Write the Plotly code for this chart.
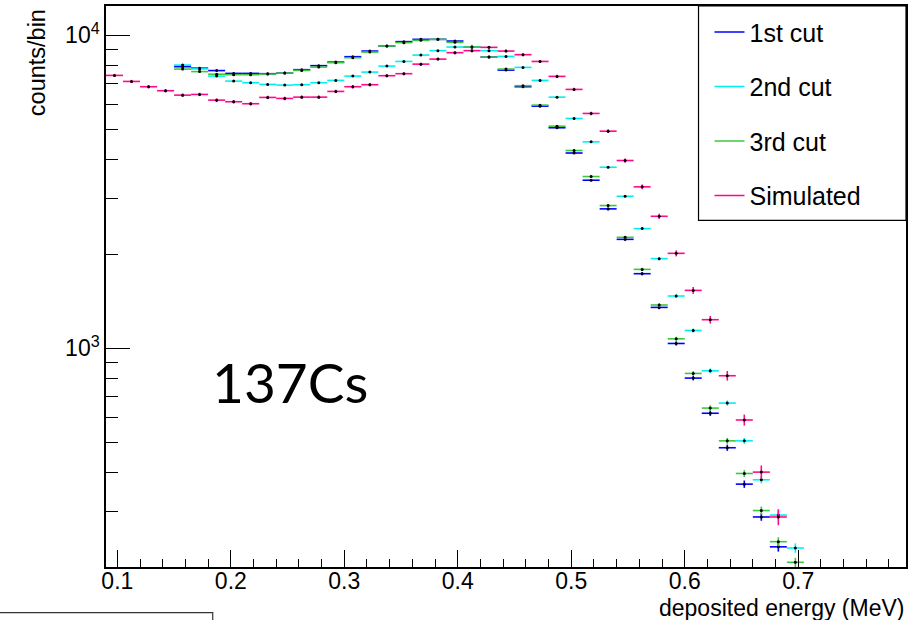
import math
import plotly.graph_objects as go

# ---------------- data ----------------
bin_width = 0.015
energy = [0.0975, 0.1125, 0.1275, 0.1425, 0.1575, 0.1725, 0.1875, 0.2025, 0.2175, 0.2325,
          0.2475, 0.2625, 0.2775, 0.2925, 0.3075, 0.3225, 0.3375, 0.3525, 0.3675, 0.3825,
          0.3975, 0.4125, 0.4275, 0.4425, 0.4575, 0.4725, 0.4875, 0.5025, 0.5175, 0.5325,
          0.5475, 0.5625, 0.5775, 0.5925, 0.6075, 0.6225, 0.6375, 0.6525, 0.6675, 0.6825,
          0.6975]

cut1 = [None, None, None, None, 7940, 7853, 7716, 7558, 7558, 7541,
        7575, 7767, 8000, 8213, 8546, 8907, 9243, 9547, 9710, 9710,
        9589, 9175, 8521, 7744, 6852, 5940, 5066, 4207, 3444, 2789,
        2229, 1731, 1351, 1036, 803, 620, 481, 368, 289, 232,
        None]
cut1_err = [None, None, None, None, 45, 44, 44, 43, 43, 43,
            43, 44, 45, 45, 46, 47, 48, 49, 49, 49,
            49, 48, 46, 44, 41, 39, 36, 32, 29, 26,
            24, 21, 18, 16, 14, 12, 11, 10, 8, 8,
            None]

cut2 = [None, None, None, None, 8034, 7813, 7409, 7141, 7058, 6970,
        6934, 6954, 7058, 7178, 7409, 7631, 7975, 8253, 8648, 8933,
        9175, 9175, 8933, 8565, 7899, 7178, 6347, 5425, 4567, 3789,
        3060, 2412, 1934, 1469, 1140, 847, 668, 506, 380, 293,
        230]
cut2_err = [None, None, None, None, 45, 44, 43, 42, 42, 42,
            42, 42, 42, 42, 43, 44, 45, 45, 46, 47,
            48, 48, 47, 46, 44, 42, 40, 37, 34, 31,
            28, 25, 22, 19, 17, 15, 13, 11, 10, 9,
            8]

cut3 = [None, None, None, None, 7801, 7659, 7513, 7486, 7486, 7519,
        7575, 7727, 7917, 8177, 8483, 8842, 9243, 9477, 9638, 9710,
        9497, 9175, 8521, 7801, 6903, 5984, 5126, 4285, 3538, 2858,
        2262, 1787, 1375, 1072, 831, 644, 506, 398, 303, 241,
        207]
cut3_err = [None, None, None, None, 44, 44, 43, 43, 43, 43,
            43, 44, 44, 45, 46, 47, 48, 49, 49, 49,
            49, 48, 46, 44, 42, 39, 36, 33, 30, 27,
            24, 21, 19, 16, 14, 13, 11, 10, 9, 8,
            7]

simulated = [7447, 7124, 6852, 6653, 6441, 6474, 6208, 6135, 6046, 6333,
             6286, 6347, 6347, 6619, 6852, 6954, 7431, 7541, 8091, 8395,
             8803, 8933, 9155, 8907, 8674, 8253, 7393, 6718, 5629, 4940,
             3981, 3280, 2641, 2011, 1531, 1234, 817, 590, 402, 289,
             None]
simulated_err = [86, 84, 83, 82, 80, 80, 79, 78, 78, 80,
                 79, 80, 80, 81, 83, 83, 86, 87, 90, 92,
                 94, 95, 96, 94, 93, 91, 86, 82, 75, 70,
                 63, 57, 51, 45, 39, 35, 29, 24, 20, 17,
                 None]

series_names = ["1st cut", "2nd cut", "3rd cut", "Simulated"]
series_values = [cut1, cut2, cut3, simulated]
series_errors = [cut1_err, cut2_err, cut3_err, simulated_err]
series_colors = ["#0000ff", "#00f0f0", "#3cc83c", "#ff0a8c"]

y_major = [1000, 10000]
y_major_text = ["10<sup>3</sup>", "10<sup>4</sup>"]
y_minor = [200, 300, 400, 500, 600, 700, 800, 900,
           2000, 3000, 4000, 5000, 6000, 7000, 8000, 9000]
x_range = [0.09, 0.795]
y_range = [200, 12410]

# ---------------- figure ----------------
fig = go.Figure()
FONT = "Liberation Sans, Arial, sans-serif"

for name, vals, errs, col in zip(series_names, series_values, series_errors, series_colors):
    fig.add_trace(go.Scatter(
        x=energy, y=vals, mode="markers", name=name, showlegend=False,
        marker=dict(size=3, color="black", line=dict(width=0)),
        error_x=dict(type="constant", value=bin_width / 2, color=col, thickness=1.6, width=0),
        error_y=dict(type="data", array=[e if e is not None else 0 for e in errs],
                     color=col, thickness=1.6, width=0),
        cliponaxis=True,
    ))

for i, (name, col) in enumerate(zip(series_names, series_colors)):
    fig.add_trace(go.Scatter(
        x=[None], y=[None], mode="lines", name=name, legendgroup=f"g{i}",
        line=dict(color=col, width=1.5), showlegend=True,
    ))

PW, PH = 802, 561
fig.update_layout(
    width=912, height=620,
    margin=dict(l=106, r=4, t=6, b=53),
    paper_bgcolor="white", plot_bgcolor="white",
    font=dict(family=FONT, color="black", size=21),
    showlegend=True,
    legend=dict(
        x=(711 - 106) / PW, y=0.994, xanchor="left", yanchor="top",
        bgcolor="rgba(0,0,0,0)", borderwidth=0,
        font=dict(family=FONT, size=25, color="black"),
        tracegroupgap=19, itemwidth=30,
    ),
    xaxis=dict(
        range=x_range, showgrid=False, zeroline=False,
        showline=True, linecolor="black", linewidth=1.5, mirror=True,
        ticks="inside", ticklen=17, tickwidth=1.2, tickcolor="black",
        dtick=0.1, tick0=0.0, tickformat=".1f",
        tickfont=dict(family=FONT, size=23), ticklabelstandoff=-7,
        minor=dict(ticks="inside", ticklen=8, tickwidth=1.2, tickcolor="black", dtick=0.02, tick0=0.0),
    ),
    yaxis=dict(
        type="log", range=[math.log10(y_range[0]), math.log10(y_range[1])],
        showgrid=False, zeroline=False,
        showline=True, linecolor="black", linewidth=1.5, mirror=True,
        ticks="inside", ticklen=24, tickwidth=1.2, tickcolor="black",
        tickvals=y_major, ticktext=y_major_text,
        tickfont=dict(family=FONT, size=23),
        minor=dict(ticks="inside", ticklen=12, tickwidth=1.2, tickcolor="black", tickvals=y_minor),
    ),
    annotations=[
        dict(text="deposited energy (MeV)", xref="paper", yref="paper", x=1.0, y=-0.073,
             xanchor="right", yanchor="middle", showarrow=False,
             font=dict(family=FONT, size=23)),
        dict(text="counts/bin", xref="paper", yref="paper", x=-0.087, y=0.9977,
             xanchor="center", yanchor="top", textangle=-90, showarrow=False,
             font=dict(family=FONT, size=23.5)),
        dict(text="137Cs", xref="paper", yref="paper", x=0.23, y=0.329,
             xanchor="center", yanchor="middle", showarrow=False,
             font=dict(family="Lato, Carlito, sans-serif", size=55)),
    ],
    shapes=[
        dict(type="rect", xref="paper", yref="paper", layer="above",
             x0=(700 - 106) / PW, x1=1.0, y0=(566.7 - 220) / PH, y1=1.0,
             line=dict(color="black", width=1.2), fillcolor="white"),
        dict(type="rect", xref="paper", yref="paper",
             x0=-0.3, x1=(213 - 106) / PW, y0=-0.3, y1=(566.7 - 612.3) / PH,
             line=dict(color="#333333", width=1.2), fillcolor="rgba(0,0,0,0)"),
    ],
)

fig.write_html("out.html")
